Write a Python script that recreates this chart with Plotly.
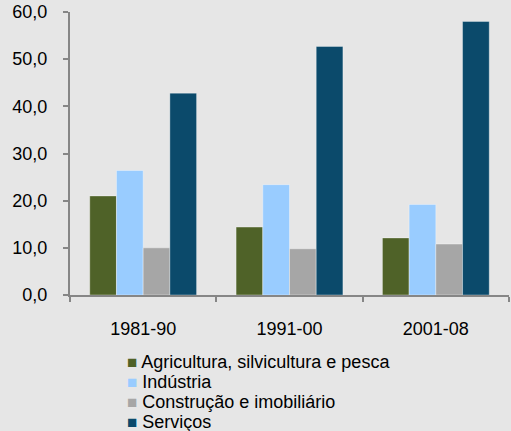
import plotly.graph_objects as go

periods = ["1981-90", "1991-00", "2001-08"]
agricultura = [21.0, 14.4, 12.1]
industria = [26.4, 23.4, 19.2]
construcao = [10.0, 9.8, 10.8]
servicos = [42.8, 52.7, 58.0]

series = [
    ("Agricultura, silvicultura e pesca", agricultura, "#4f6228"),
    ("Indústria", industria, "#99ccff"),
    ("Construção e imobiliário", construcao, "#a6a6a6"),
    ("Serviços", servicos, "#0b4a6b"),
]

fig = go.Figure()
for name, vals, color in series:
    fig.add_trace(go.Bar(x=periods, y=vals, name=name, showlegend=False,
                         marker=dict(color=color, line=dict(color="rgba(255,255,255,0.35)", width=1))))

# legend drawn as text so the rows can sit 20px apart like the original
for i, (name, vals, color) in enumerate(series):
    fig.add_annotation(
        xref="paper", yref="paper", x=0.125, y=-0.237 - i * 0.0705,
        xanchor="left", yanchor="middle", showarrow=False,
        text=f"<span style='color:{color};font-size:17px'>■</span> {name}",
    )

fig.update_layout(
    width=511, height=431,
    barmode="group", bargap=0.27, bargroupgap=0,
    paper_bgcolor="#e6e6e6", plot_bgcolor="#e6e6e6",
    separators=",.",
    font=dict(family="Liberation Sans, Arial, sans-serif", size=18, color="#000000"),
    margin=dict(l=70, r=2, t=12, b=136, autoexpand=False),
)
fig.update_yaxes(range=[0, 60], dtick=10, tickformat=".1f", showgrid=False,
                 showline=True, linecolor="#868686", linewidth=2,
                 ticks="outside", ticklen=5, tickcolor="#868686", tickwidth=2,
                 ticklabelstandoff=12, zeroline=False)
fig.update_xaxes(type="category", showgrid=False, showline=True, linecolor="#868686", linewidth=2,
                 ticks="outside", ticklen=5, tickcolor="#868686", tickwidth=2,
                 tickson="boundaries", ticklabelstandoff=16)

fig.write_html("out.html", config={"displayModeBar": False},
               post_script="document.body.style.margin='0';")
